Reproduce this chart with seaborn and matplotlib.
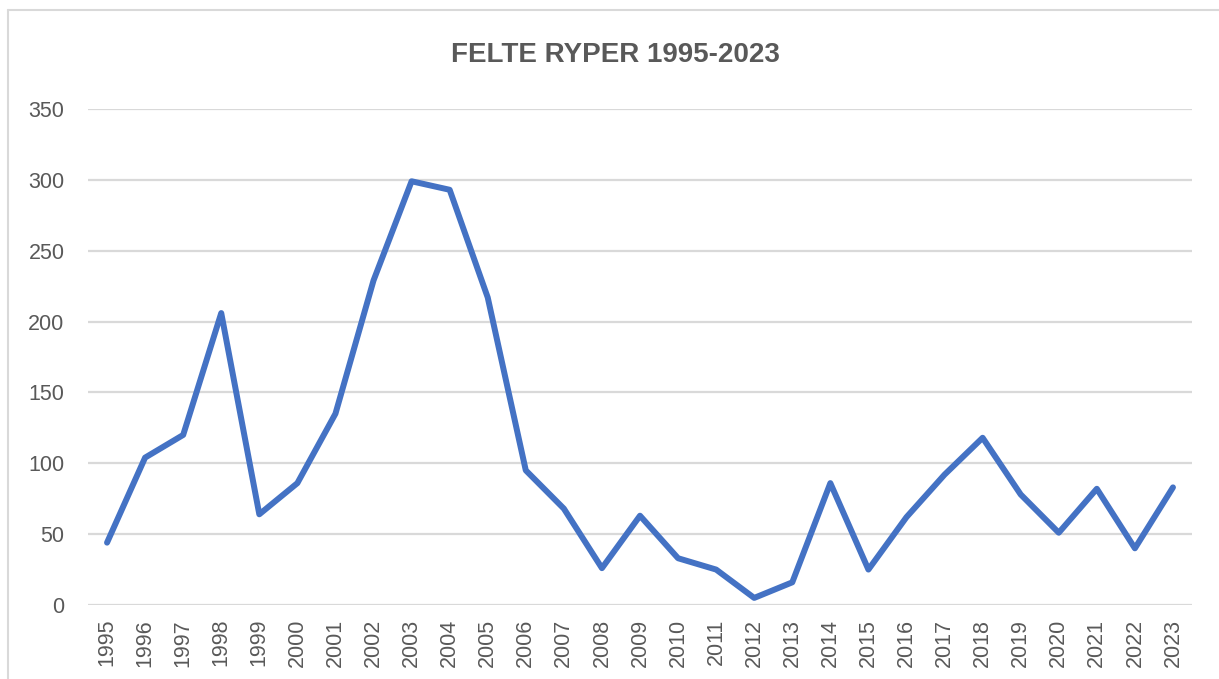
import pandas as pd
import matplotlib
matplotlib.use("Agg")
import matplotlib.pyplot as plt
from matplotlib.lines import Line2D
import seaborn as sns

years = [str(y) for y in range(1995, 2024)]
felte = [44, 104, 120, 206, 64, 86, 135, 229, 299, 293,
         217, 95, 68, 26, 63, 33, 25, 5, 16, 86,
         25, 62, 92, 118, 78, 51, 82, 40, 83]
yticks = [0, 50, 100, 150, 200, 250, 300, 350]

df = pd.DataFrame({"year": years, "felte": felte})

sns.set_style("white")
plt.rcParams['font.family'] = ['Liberation Sans', 'DejaVu Sans']

W, H = 1219, 679
fig = plt.figure(figsize=(W / 100, H / 100), dpi=100)
ax = fig.add_axes([88 / W, (H - 605) / H, (1192 - 88) / W, (605 - 109) / H])

for t in yticks:
    ax.axhline(t, color='#D9D9D9', lw=1.6, zorder=0)

sns.lineplot(data=df, x="year", y="felte", ax=ax, color='#4472C4',
             lw=4.3, sort=False, zorder=3)
ax.lines[-1].set_solid_joinstyle('round')

ax.set_xlim(-0.5, len(years) - 0.5)
ax.set_ylim(0, 350)
ax.set_yticks(yticks)
ax.set_xlabel("")
ax.set_ylabel("")
ax.tick_params(axis='both', length=0, labelsize=15.5, labelcolor='#595959')
ax.tick_params(axis='y', pad=17)
ax.tick_params(axis='x', pad=10)
plt.setp(ax.get_xticklabels(), rotation=90)
sns.despine(ax=ax, left=True, bottom=True)

fig.text(615 / W, 1 - 55 / H, "FELTE RYPER 1995-2023", ha='center', va='center',
         fontsize=20, fontweight='bold', color='#595959')

# chart area border (cropped on the right and bottom)
fig.add_artist(Line2D([8 / W, 1.0], [1 - 10 / H, 1 - 10 / H], color='#D9D9D9', lw=1.5))
fig.add_artist(Line2D([8 / W, 8 / W], [0, 1 - 10 / H], color='#D9D9D9', lw=1.5))

fig.savefig("out.png", dpi=100)
